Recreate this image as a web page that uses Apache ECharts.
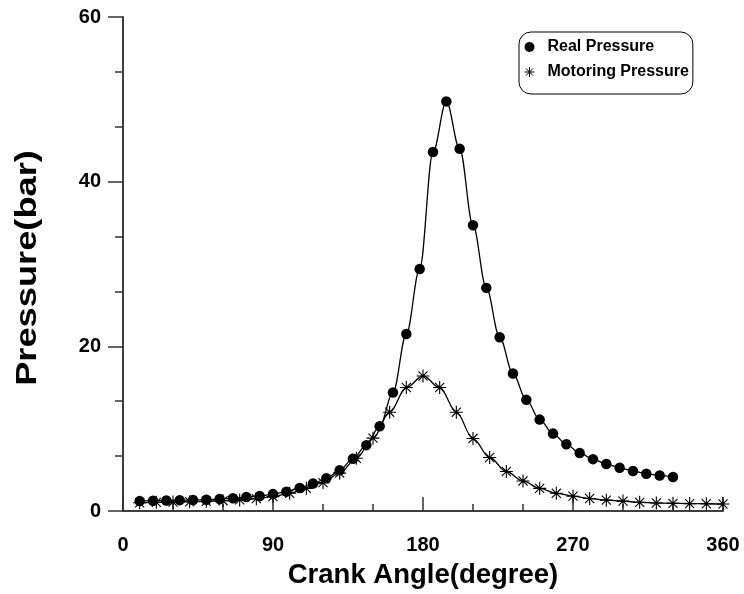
<!DOCTYPE html>
<html>
<head>
<meta charset="utf-8">
<script src="https://cdn.jsdelivr.net/npm/echarts@6/dist/echarts.min.js"></script>
<style>html,body{margin:0;padding:0;background:#fff}#c{width:744px;height:594px}</style>
</head>
<body>
<div id="c"></div>
<script>
var realAngle = [10,18,26,34,42,50,58,66,74,82,90,98,106,114,122,130,138,146,154,162,170,178,186,194,202,210,218,226,234,242,250,258,266,274,282,290,298,306,314,322,330];
var realPressure = [1.2,1.25,1.28,1.32,1.33,1.37,1.45,1.55,1.69,1.83,2.05,2.35,2.8,3.33,3.97,4.95,6.35,8.0,10.3,14.4,21.5,29.4,43.6,49.75,44.0,34.7,27.1,21.1,16.7,13.5,11.1,9.4,8.1,7.05,6.3,5.7,5.25,4.85,4.52,4.32,4.13];
var motorAngle = [10,20,30,40,50,60,70,80,90,100,110,120,130,140,150,160,170,180,190,200,210,220,230,240,250,260,270,280,290,300,310,320,330,340,350,360];
var motorPressure = [1.0,1.05,1.08,1.12,1.18,1.25,1.35,1.5,1.75,2.15,2.75,3.45,4.6,6.4,8.85,12.0,15.0,16.4,15.0,12.0,8.8,6.5,4.8,3.65,2.75,2.15,1.8,1.52,1.32,1.2,1.05,0.97,0.93,0.9,0.88,0.85];
var xTickLabels = ['0','90','180','270','360'];
var yTickLabels = ['0','20','40','60'];
var xTitle = 'Crank Angle(degree)';
var yTitle = 'Pressure(bar)';

function pairs(xs, ys){ return xs.map(function(x,i){return [x, ys[i]];}); }
var starPath = 'path://M6,0L6,12M0,6L12,6M1.8,1.8L10.2,10.2M1.8,10.2L10.2,1.8';
var FONT = '"Liberation Sans", Arial, sans-serif';
var axisColor = '#333';

var chart = echarts.init(document.getElementById('c'), null, {renderer:'canvas'});
chart.setOption({
  animation: false,
  backgroundColor: '#fff',
  grid: {left:123, top:17, right:21, bottom:77, containLabel:false},
  graphic: [{
    type:'text', x:28, y:268, rotation: Math.PI/2, scaleX:1.25, scaleY:1,
    style:{text:yTitle, fontFamily:FONT, fontWeight:'bold', fontSize:29, fill:'#000', textAlign:'center', textVerticalAlign:'middle'}
  }],
  legend: {
    orient: 'vertical', left: 519, top: 32,
    padding: [7, 4, 14, 3],
    itemWidth: 10, itemHeight: 10, itemGap: 9,
    borderColor: '#000', borderWidth: 1, borderRadius: 12,
    textStyle: {fontFamily:FONT, fontWeight:'bold', fontSize:16, color:'#000', padding:[0,0,0,8]},
    data: [
      {name:'Real Pressure', icon:'circle', itemStyle:{color:'#000', borderWidth:0}},
      {name:'Motoring Pressure', icon: starPath, itemStyle:{color:'none', borderColor:'#000', borderWidth:1}}
    ]
  },
  xAxis: [{
    type:'value', min:0, max:360, interval:90,
    axisLine:{show:true, onZero:false, lineStyle:{color:axisColor, width:1.5}},
    axisTick:{show:true, inside:true, length:14, lineStyle:{color:axisColor, width:1.5}},
    minorTick:{show:true, splitNumber:3, length:7, lineStyle:{color:axisColor, width:1.5}},
    splitLine:{show:false},
    axisLabel:{fontFamily:FONT, fontWeight:'bold', fontSize:20, color:'#000', margin:24,
      formatter:function(v){var i = Math.round(v/90); return xTickLabels[i] !== undefined ? xTickLabels[i] : '';}},
    name:xTitle, nameLocation:'middle', nameGap:50,
    nameTextStyle:{fontFamily:FONT, fontWeight:'bold', fontSize:27.5, color:'#000'}
  },{
    type:'value', min:0, max:360, position:'top',
    axisLine:{show:true, lineStyle:{color:axisColor, width:1.5}},
    axisTick:{show:false}, axisLabel:{show:false}, splitLine:{show:false}
  }],
  yAxis: [{
    type:'value', min:0, max:60, interval:20,
    axisLine:{show:true, onZero:false, lineStyle:{color:axisColor, width:1.5}},
    axisTick:{show:true, inside:false, length:15, lineStyle:{color:axisColor, width:1.5}},
    minorTick:{show:true, splitNumber:3, length:8, lineStyle:{color:axisColor, width:1.5}},
    splitLine:{show:false},
    axisLabel:{fontFamily:FONT, fontWeight:'bold', fontSize:20, color:'#000', margin:22,
      formatter:function(v){var i = Math.round(v/20); return yTickLabels[i] !== undefined ? yTickLabels[i] : '';}}
  },{
    type:'value', min:0, max:60, position:'right',
    axisLine:{show:true, lineStyle:{color:axisColor, width:1.5}},
    axisTick:{show:false}, axisLabel:{show:false}, splitLine:{show:false}
  }],
  series: [{
    name:'Real Pressure', type:'line', data: pairs(realAngle, realPressure),
    smooth:0.35, smoothMonotone:'x',
    symbol:'circle', symbolSize:10.5, showAllSymbol:true,
    lineStyle:{color:'#000', width:1.3},
    itemStyle:{color:'#000', borderWidth:0},
    z:3
  },{
    name:'Motoring Pressure', type:'line', data: pairs(motorAngle, motorPressure),
    smooth:0.35, smoothMonotone:'x',
    symbol: starPath, symbolSize:13, showAllSymbol:true,
    lineStyle:{color:'#000', width:1.3},
    itemStyle:{color:'none', borderColor:'#000', borderWidth:1.1},
    z:2
  }]
});
</script>
</body>
</html>
